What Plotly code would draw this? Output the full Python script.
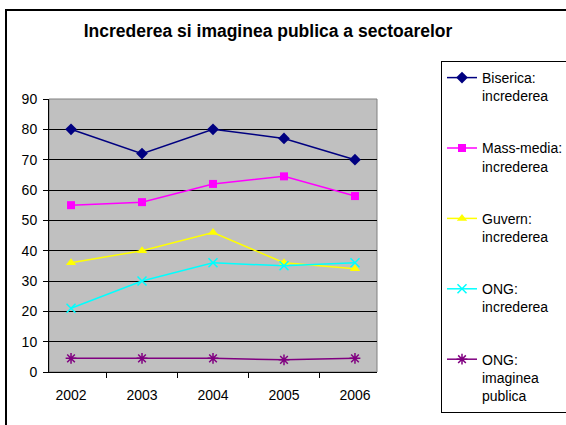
import plotly.graph_objects as go

years = ["2002", "2003", "2004", "2005", "2006"]
biserica = [80, 72, 80, 77, 70]
mass_media = [55, 56, 62, 64.5, 58]
guvern = [36, 40, 46, 36, 34]
ong_incredere = [21, 30, 36, 35, 36]
ong_imagine = [4.5, 4.5, 4.5, 4, 4.5]

series = [
    ("Biserica:<br>increderea", biserica, "#000080", "diamond", 9, None),
    ("Mass-media:<br>increderea", mass_media, "#FF00FF", "square", 8, None),
    ("Guvern:<br>increderea", guvern, "#FFFF00", "triangle-up", 9, None),
    ("ONG:<br>increderea", ong_incredere, "#00FFFF", "x-thin-open", 9, 1.5),
    ("ONG:<br>imaginea<br>publica", ong_imagine, "#800080", "asterisk-open", 9, 1.5),
]

FONT = "Liberation Sans, Arial, sans-serif"

fig = go.Figure()
for i, (name, vals, col, sym, size, lw) in enumerate(series):
    marker = dict(symbol=sym, size=size, color=col)
    if lw:
        marker["line"] = dict(color=col, width=lw)
    else:
        marker["line"] = dict(width=0)
    fig.add_trace(go.Scatter(
        x=years, y=vals, name=name, mode="lines+markers",
        line=dict(color=col, width=1.5), marker=marker,
        legendgroup=f"g{i}",
    ))

L, R, T, B = 49, 189, 99, 53
W, H = 566, 425
pw, ph = W - L - R, H - T - B

def px(x):
    return (x - L) / pw

def py(y):
    return (H - B - y) / ph

fig.update_layout(
    width=W, height=H,
    margin=dict(l=L, r=R, t=T, b=B, autoexpand=False),
    paper_bgcolor="white",
    plot_bgcolor="#C0C0C0",
    font=dict(family=FONT, size=14, color="black"),
    title=dict(text="<b>Increderea si imaginea publica a sectoarelor</b>",
               font=dict(family=FONT, size=17.5, color="black"),
               x=268 / W, xanchor="center", y=1 - 31 / H, yanchor="middle"),
    showlegend=True,
    legend=dict(
        x=px(441), xanchor="left", y=py(61), yanchor="top",
        bgcolor="white", bordercolor="black", borderwidth=1,
        font=dict(family=FONT, size=14, color="black"),
        traceorder="grouped", tracegroupgap=31, valign="top",
        itemwidth=30, maxheight=1,
    ),
    xaxis=dict(
        type="category", tickson="boundaries",
        showgrid=False, showline=True, linecolor="black", linewidth=1,
        ticks="outside", ticklen=5, tickcolor="black",
        tickfont=dict(family=FONT, size=14, color="black"),
        ticklabelstandoff=10, zeroline=False, fixedrange=True,
    ),
    yaxis=dict(
        range=[0, 90], tickvals=list(range(0, 100, 10)),
        showgrid=True, gridcolor="black", gridwidth=1,
        showline=True, linecolor="black", linewidth=1,
        ticks="outside", ticklen=5, tickcolor="black",
        tickfont=dict(family=FONT, size=14, color="black"),
        ticklabelstandoff=3, zeroline=False,
    ),
    shapes=[
        dict(type="rect", xref="paper", yref="paper", x0=0, x1=1, y0=0, y1=1,
             line=dict(color="#808080", width=1), layer="below"),
        dict(type="rect", xref="paper", yref="paper",
             x0=px(6), x1=px(575), y0=py(435), y1=py(10),
             line=dict(color="black", width=2)),
    ],
)

fig.write_html("out.html",
               config={"displayModeBar": False},
               post_script="document.body.style.margin='0';document.body.style.overflow='hidden';")
